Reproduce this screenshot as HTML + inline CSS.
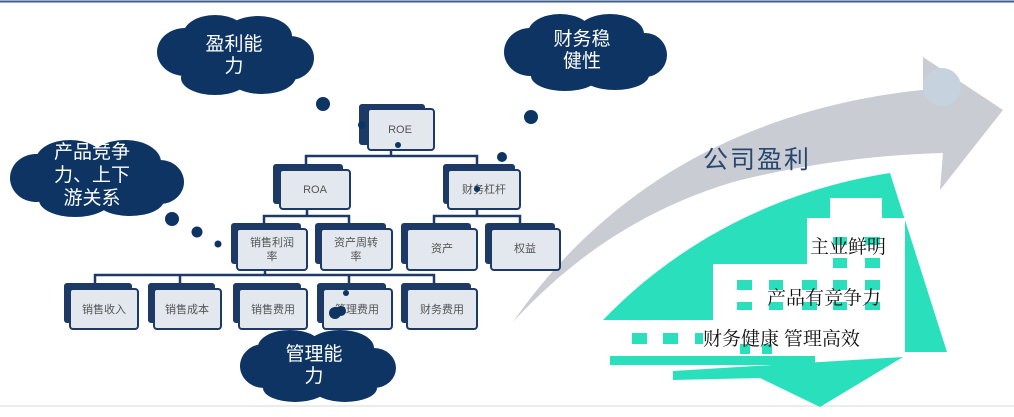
<!DOCTYPE html>
<html><head><meta charset="utf-8"><style>
html,body{margin:0;padding:0;background:#fff;}
svg{display:block;}
text{font-family:"Liberation Sans","Noto Sans CJK SC",sans-serif;}
.ct{fill:#fff;font-size:19px;text-anchor:middle;}
.bt{fill:#555;font-size:11px;text-anchor:middle;}
.kt{fill:#111;font-size:19px;font-family:"Noto Serif CJK SC","Noto Sans CJK SC",serif;}
</style></head><body>
<svg width="1014" height="417" viewBox="0 0 1014 417" xmlns="http://www.w3.org/2000/svg">
<line x1="0" y1="1.5" x2="1014" y2="1.5" stroke="#3d5c8a" stroke-width="2"/>
<line x1="0" y1="406" x2="1014" y2="406" stroke="#d8d8d8" stroke-width="1"/>

<!-- arrow -->
<path d="M513,322 C570,240 650,170 760,128 C820,105 880,94 923,90 L923,57 L1003,110 L940,190 L943,153 C870,155 800,165 733,182 C640,210 570,260 513,322 Z" fill="#c9ccd2"/>
<circle cx="942" cy="87" r="19" fill="#c6d2de"/>
<text x="703" y="168" font-size="25" fill="#284770" letter-spacing="2">公司盈利</text>

<!-- teal -->
<path d="M603,320 C680,240 780,190 890,173 L947,352 L603,352 Z" fill="#2ae0bc"/>
<rect x="610" y="356" width="205" height="9" fill="#2ae0bc"/>
<path d="M673,371 L903,357 L820,407 L760,378 L673,380 Z" fill="#2ae0bc"/>
<path d="M830,198 H882 V218 H905 V352 H602 V320 H713 V264 H807 V218 H830 Z" fill="#fff"/>
<g fill="#2ae0bc">
<rect x="833" y="237" width="14" height="8"/><rect x="865" y="237" width="15" height="8"/>
<rect x="833" y="258" width="14" height="10"/><rect x="865" y="258" width="15" height="10"/>
<rect x="737" y="280" width="15" height="10"/><rect x="769" y="280" width="14" height="10"/><rect x="802" y="280" width="15" height="10"/><rect x="833" y="280" width="14" height="10"/><rect x="865" y="280" width="15" height="10"/>
<rect x="737" y="302" width="15" height="8"/><rect x="769" y="302" width="14" height="8"/><rect x="802" y="302" width="15" height="8"/><rect x="833" y="302" width="14" height="8"/><rect x="865" y="302" width="15" height="8"/>
<rect x="632" y="333" width="15" height="11"/><rect x="663" y="333" width="15" height="11"/><rect x="695" y="333" width="8" height="11"/>
<rect x="740" y="344" width="10" height="10"/><rect x="762" y="344" width="10" height="10"/>
</g>
<text class="kt" x="810" y="253">主业鲜明</text>
<text class="kt" x="767" y="304">产品有竞争力</text>
<text class="kt" x="703" y="345">财务健康 管理高效</text>

<!-- clouds -->
<g fill="#0d3463">
<ellipse cx="185" cy="52" rx="28" ry="24"/><ellipse cx="215" cy="35" rx="32" ry="20"/><ellipse cx="258" cy="36" rx="34" ry="20"/><ellipse cx="290" cy="58" rx="24" ry="22"/><ellipse cx="262" cy="76" rx="34" ry="18"/><ellipse cx="215" cy="78" rx="34" ry="17"/><ellipse cx="237" cy="56" rx="60" ry="28"/>
<ellipse cx="530" cy="52" rx="26" ry="24"/><ellipse cx="560" cy="33" rx="32" ry="19"/><ellipse cx="610" cy="34" rx="34" ry="20"/><ellipse cx="645" cy="55" rx="22" ry="22"/><ellipse cx="615" cy="75" rx="34" ry="15"/><ellipse cx="565" cy="76" rx="34" ry="15"/><ellipse cx="586" cy="55" rx="60" ry="26"/>
<ellipse cx="36" cy="178" rx="26" ry="24"/><ellipse cx="70" cy="160" rx="34" ry="20"/><ellipse cx="125" cy="162" rx="36" ry="22"/><ellipse cx="160" cy="182" rx="24" ry="22"/><ellipse cx="130" cy="200" rx="34" ry="16"/><ellipse cx="75" cy="200" rx="36" ry="17"/><ellipse cx="98" cy="180" rx="66" ry="30"/>
<ellipse cx="264" cy="366" rx="24" ry="22"/><ellipse cx="290" cy="347" rx="32" ry="17"/><ellipse cx="340" cy="348" rx="34" ry="18"/><ellipse cx="374" cy="368" rx="22" ry="20"/><ellipse cx="345" cy="388" rx="32" ry="14"/><ellipse cx="295" cy="388" rx="32" ry="14"/><ellipse cx="318" cy="368" rx="58" ry="26"/>
</g>
<text class="ct" x="234" y="50">盈利能</text><text class="ct" x="234" y="72">力</text>
<text class="ct" x="582" y="45">财务稳</text><text class="ct" x="582" y="67">健性</text>
<text class="ct" x="92" y="158">产品竞争</text><text class="ct" x="92" y="181">力、上下</text><text class="ct" x="92" y="204">游关系</text>
<text class="ct" x="314" y="360" font-size="17">管理能</text><text class="ct" x="314" y="382" font-size="17">力</text>

<!-- connectors -->
<g stroke="#1d3a66" stroke-width="2.5" fill="none">
<path d="M391,150 V156 M306,165 V156 H477 V165"/>
<path d="M307,209 V216 M264,223 V216 H349 V223"/>
<path d="M477,209 V216 M434,223 V216 H520 V223"/>
<path d="M265,270 V275 M95,283 V275 H434 V283 M180,275 V283 M349,275 V283"/>
</g>

<!-- boxes -->
<g>
<g fill="#1d3a66">
<rect x="359" y="104" width="66" height="41" rx="3"/>
<rect x="273" y="164" width="70" height="40" rx="3"/>
<rect x="443" y="164" width="72" height="40" rx="3"/>
<rect x="231" y="223" width="70" height="41" rx="3"/>
<rect x="315" y="223" width="71" height="41" rx="3"/>
<rect x="401" y="223" width="70" height="41" rx="3"/>
<rect x="485" y="223" width="70" height="41" rx="3"/>
<rect x="64" y="283" width="68" height="40" rx="3"/>
<rect x="148" y="283" width="67" height="40" rx="3"/>
<rect x="233" y="283" width="68" height="40" rx="3"/>
<rect x="317" y="283" width="69" height="40" rx="3"/>
<rect x="401" y="283" width="70" height="40" rx="3"/>
</g>
<g fill="#e3e7ee" stroke="#1d3a66" stroke-width="2">
<rect x="368" y="109" width="66" height="41" rx="3"/>
<rect x="280" y="170" width="70" height="39" rx="3"/>
<rect x="448" y="170" width="72" height="39" rx="3"/>
<rect x="237" y="229" width="70" height="41" rx="3"/>
<rect x="321" y="229" width="71" height="41" rx="3"/>
<rect x="407" y="229" width="70" height="41" rx="3"/>
<rect x="491" y="229" width="69" height="41" rx="3"/>
<rect x="70" y="289" width="68" height="40" rx="3"/>
<rect x="154" y="289" width="67" height="40" rx="3"/>
<rect x="239" y="289" width="68" height="40" rx="3"/>
<rect x="323" y="289" width="69" height="40" rx="3"/>
<rect x="407" y="289" width="70" height="40" rx="3"/>
</g>
<text class="bt" x="400" y="133">ROE</text>
<text class="bt" x="315" y="193">ROA</text>
<text class="bt" x="484" y="193">财务杠杆</text>
<text class="bt" x="272" y="246">销售利润</text><text class="bt" x="272" y="260">率</text>
<text class="bt" x="356" y="246">资产周转</text><text class="bt" x="356" y="260">率</text>
<text class="bt" x="442" y="252">资产</text>
<text class="bt" x="525" y="252">权益</text>
<text class="bt" x="104" y="313">销售收入</text>
<text class="bt" x="187" y="313">销售成本</text>
<text class="bt" x="273" y="313">销售费用</text>
<text class="bt" x="357" y="313">管理费用</text>
<text class="bt" x="442" y="313">财务费用</text>
</g>

<!-- dots -->
<g fill="#0d3463">
<circle cx="323" cy="104" r="7"/><circle cx="531" cy="117" r="7"/>
<circle cx="172" cy="219" r="7"/><circle cx="197" cy="232" r="5.5"/><circle cx="218" cy="244" r="3.5"/>
<circle cx="362" cy="125" r="4"/><circle cx="398" cy="145" r="3"/><circle cx="502" cy="157" r="5"/><circle cx="477" cy="189" r="3"/>
<circle cx="346" cy="293" r="3"/><circle cx="341" cy="311" r="5"/><circle cx="335" cy="313" r="6"/>
</g>
</svg>
</body></html>
